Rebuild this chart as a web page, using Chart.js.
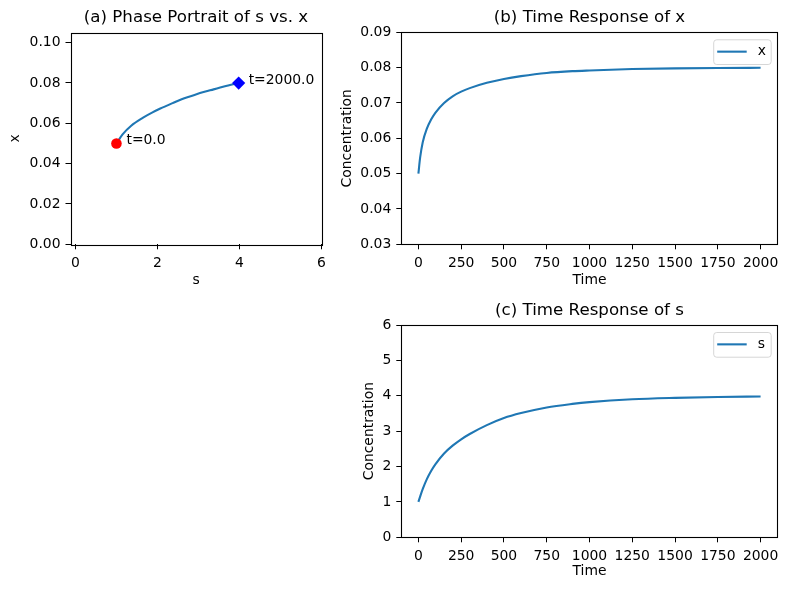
<!DOCTYPE html>
<html><head><meta charset="utf-8">
<script src="https://cdn.jsdelivr.net/npm/chart.js@4.4.1/dist/chart.umd.min.js"></script>
<style>
html,body{margin:0;padding:0;background:#fff;}
#wrap{position:relative;width:788px;height:590px;overflow:hidden;background:#fff;}
canvas{position:absolute;}
</style></head><body>
<div id="wrap">
<canvas id="ca" width="340" height="295" style="left:0px;top:0px;width:340px;height:295px"></canvas>
<canvas id="cb" width="448" height="295" style="left:340px;top:0px;width:448px;height:295px"></canvas>
<canvas id="cc" width="448" height="295" style="left:340px;top:295px;width:448px;height:295px"></canvas>
</div>
<script>
// ---- data ----
const timeVals = [0, 10, 25, 50, 75, 100, 150, 200, 250, 300, 400, 500, 600, 750, 900, 1000, 1250, 1500, 1750, 2000];
const xVals = [0.0500, 0.0545, 0.0588, 0.0628, 0.0654, 0.0673, 0.0700, 0.0719, 0.0732, 0.0742, 0.0757, 0.0768, 0.0776, 0.0785, 0.0790, 0.0792, 0.0796, 0.0798, 0.0799, 0.07995];
const sVals = [1.00, 1.15, 1.36, 1.65, 1.88, 2.07, 2.37, 2.59, 2.77, 2.92, 3.17, 3.37, 3.51, 3.67, 3.77, 3.82, 3.90, 3.94, 3.965, 3.98];

const aXTicks = [0, 2, 4, 6];
const aYTicks = [0.00, 0.02, 0.04, 0.06, 0.08, 0.10];
const timeTicks = [0, 250, 500, 750, 1000, 1250, 1500, 1750, 2000];
const bYTicks = [0.03, 0.04, 0.05, 0.06, 0.07, 0.08, 0.09];
const cYTicks = [0, 1, 2, 3, 4, 5, 6];

const titles = ['(a) Phase Portrait of s vs. x', '(b) Time Response of x', '(c) Time Response of s'];
const LINE = '#1f77b4';
const LW = 2.1;
const FS = 13.9;

Chart.defaults.font.family = '"DejaVu Sans", sans-serif';
Chart.defaults.font.size = FS;
Chart.defaults.color = '#000';

function axis(cfg) {
  return {
    type: 'linear',
    min: cfg.min, max: cfg.max,
    grid: { drawOnChartArea: false, drawTicks: true, tickLength: 5, color: '#000', lineWidth: 1 },
    border: { display: false },
    ticks: { color: '#000', padding: cfg.tpad, autoSkip: false, maxRotation: 0, font: { size: FS },
      callback: v => cfg.fmt(v) },
    afterBuildTicks: s => { s.ticks = cfg.ticks.map(v => ({ value: v })); },
    afterFit: s => { if (cfg.width !== undefined) s.width = cfg.width; if (cfg.height !== undefined) s.height = cfg.height; },
    title: { display: true, text: cfg.title, color: '#000', font: { size: FS, lineHeight: 1 }, padding: cfg.titlePad }
  };
}

const framePlugin = {
  id: 'frame',
  afterDatasetsDraw(chart) {
    const { ctx, chartArea: a } = chart;
    ctx.save();
    ctx.strokeStyle = '#000'; ctx.lineWidth = 1.1;
    ctx.strokeRect(Math.round(a.left) + 0.5, Math.round(a.top) + 0.5, Math.round(a.right - a.left), Math.round(a.bottom - a.top));
    ctx.restore();
  }
};

const boxLegend = {
  id: 'boxLegend',
  afterDraw(chart) {
    const { ctx, chartArea: a } = chart;
    const ds = chart.data.datasets[0];
    const w = 57.5, h = 24.7;
    const x0 = a.right - 7 - w, y0 = a.top + 7;
    ctx.save();
    ctx.beginPath();
    ctx.roundRect(x0 + 0.5, y0 + 0.5, w, h, 3);
    ctx.fillStyle = 'rgba(255,255,255,0.8)'; ctx.fill();
    ctx.strokeStyle = 'rgba(204,204,204,0.8)'; ctx.lineWidth = 1; ctx.stroke();
    const my = y0 + h / 2;
    ctx.beginPath(); ctx.moveTo(x0 + 4, my); ctx.lineTo(x0 + 33.5, my);
    ctx.strokeStyle = ds.borderColor; ctx.lineWidth = LW; ctx.stroke();
    ctx.fillStyle = '#000'; ctx.font = FS + 'px "DejaVu Sans"';
    ctx.textBaseline = 'middle'; ctx.textAlign = 'left';
    ctx.fillText(ds.label, x0 + 44.5, my);
    ctx.restore();
  }
};

const pointLabels = {
  id: 'pointLabels',
  afterDatasetsDraw(chart) {
    const { ctx, scales: { x, y } } = chart;
    ctx.save();
    ctx.fillStyle = '#000'; ctx.font = FS + 'px "DejaVu Sans"';
    ctx.textBaseline = 'middle'; ctx.textAlign = 'left';
    [0, timeVals.length - 1].forEach(i => {
      const px = x.getPixelForValue(sVals[i]);
      const py = y.getPixelForValue(xVals[i]);
      ctx.fillText('t=' + timeVals[i].toFixed(1), px + 10, py - 3);
    });
    ctx.restore();
  }
};

function titleOpt(text, top, bottom) {
  return { display: true, fullSize: false, text: text, color: '#000', font: { size: 16.67, weight: 'normal', lineHeight: 1.2 }, padding: { top: top, bottom: bottom } };
}

const phaseData = sVals.map((s, i) => ({ x: s, y: xVals[i] }));
const last = sVals.length - 1;

new Chart(document.getElementById('ca'), {
  type: 'line',
  data: { datasets: [
    { label: 'start', data: [{ x: sVals[0], y: xVals[0] }], showLine: false, pointRadius: 5.3, pointStyle: 'circle',
      backgroundColor: '#ff0000', borderColor: '#ff0000', borderWidth: 0, order: 0 },
    { label: 'end', data: [{ x: sVals[last], y: xVals[last] }], showLine: false, pointRadius: 6.6, pointStyle: 'rectRot',
      backgroundColor: '#0000ff', borderColor: '#0000ff', borderWidth: 0, order: 0 },
    { label: 'phase', data: phaseData, borderColor: LINE, borderWidth: LW, pointRadius: 0, fill: false,
      cubicInterpolationMode: 'monotone', order: 1 }
  ]},
  options: {
    responsive: false, animation: false, devicePixelRatio: 1,
    layout: { padding: { left: 0, right: 18.5, top: 0, bottom: 0 } },
    plugins: { legend: { display: false }, tooltip: { enabled: false }, title: titleOpt(titles[0], 8, 4.5) },
    scales: {
      x: axis({ min: -0.12, max: 6, ticks: aXTicks, fmt: v => String(v), tpad: 6, height: 50.7, title: 's', titlePad: { top: 0, bottom: 7.5 } }),
      y: axis({ min: 0, max: 0.105, ticks: aYTicks, fmt: v => v.toFixed(2), tpad: 5, width: 70.5, title: 'x', titlePad: { top: 8, bottom: 0 } })
    }
  },
  plugins: [framePlugin, pointLabels]
});

function timeChart(id, label, vals, yTicks, ymin, ymax, fmt, titleText, tTop, tBottom, yTitleTop, xHeight, xTitleBottom) {
  return new Chart(document.getElementById(id), {
    type: 'line',
    data: { datasets: [
      { label: label, data: timeVals.map((t, i) => ({ x: t, y: vals[i] })), borderColor: LINE, borderWidth: LW,
        pointRadius: 0, fill: false, cubicInterpolationMode: 'monotone' }
    ]},
    options: {
      responsive: false, animation: false, devicePixelRatio: 1,
      layout: { padding: { left: 0, right: 10.3, top: 0, bottom: 0 } },
      plugins: { legend: { display: false }, tooltip: { enabled: false }, title: titleOpt(titleText, tTop, tBottom) },
      scales: {
        x: axis({ min: -100, max: 2100, ticks: timeTicks, fmt: v => String(v), tpad: 6, height: xHeight, title: 'Time', titlePad: { top: 0, bottom: xTitleBottom } }),
        y: axis({ min: ymin, max: ymax, ticks: yTicks, fmt: fmt, tpad: 5, width: 61.3, title: 'Concentration', titlePad: { top: yTitleTop, bottom: 0 } })
      }
    },
    plugins: [framePlugin, boxLegend]
  });
}

timeChart('cb', 'x', xVals, bYTicks, 0.03, 0.09, v => v.toFixed(2), titles[1], 8, 4.3, 0.4, 50.7, 7.5);
timeChart('cc', 's', sVals, cYTicks, 0, 6, v => String(v), titles[2], 5.7, 4.3, 22, 52.7, 11.5);
</script>
</body></html>
